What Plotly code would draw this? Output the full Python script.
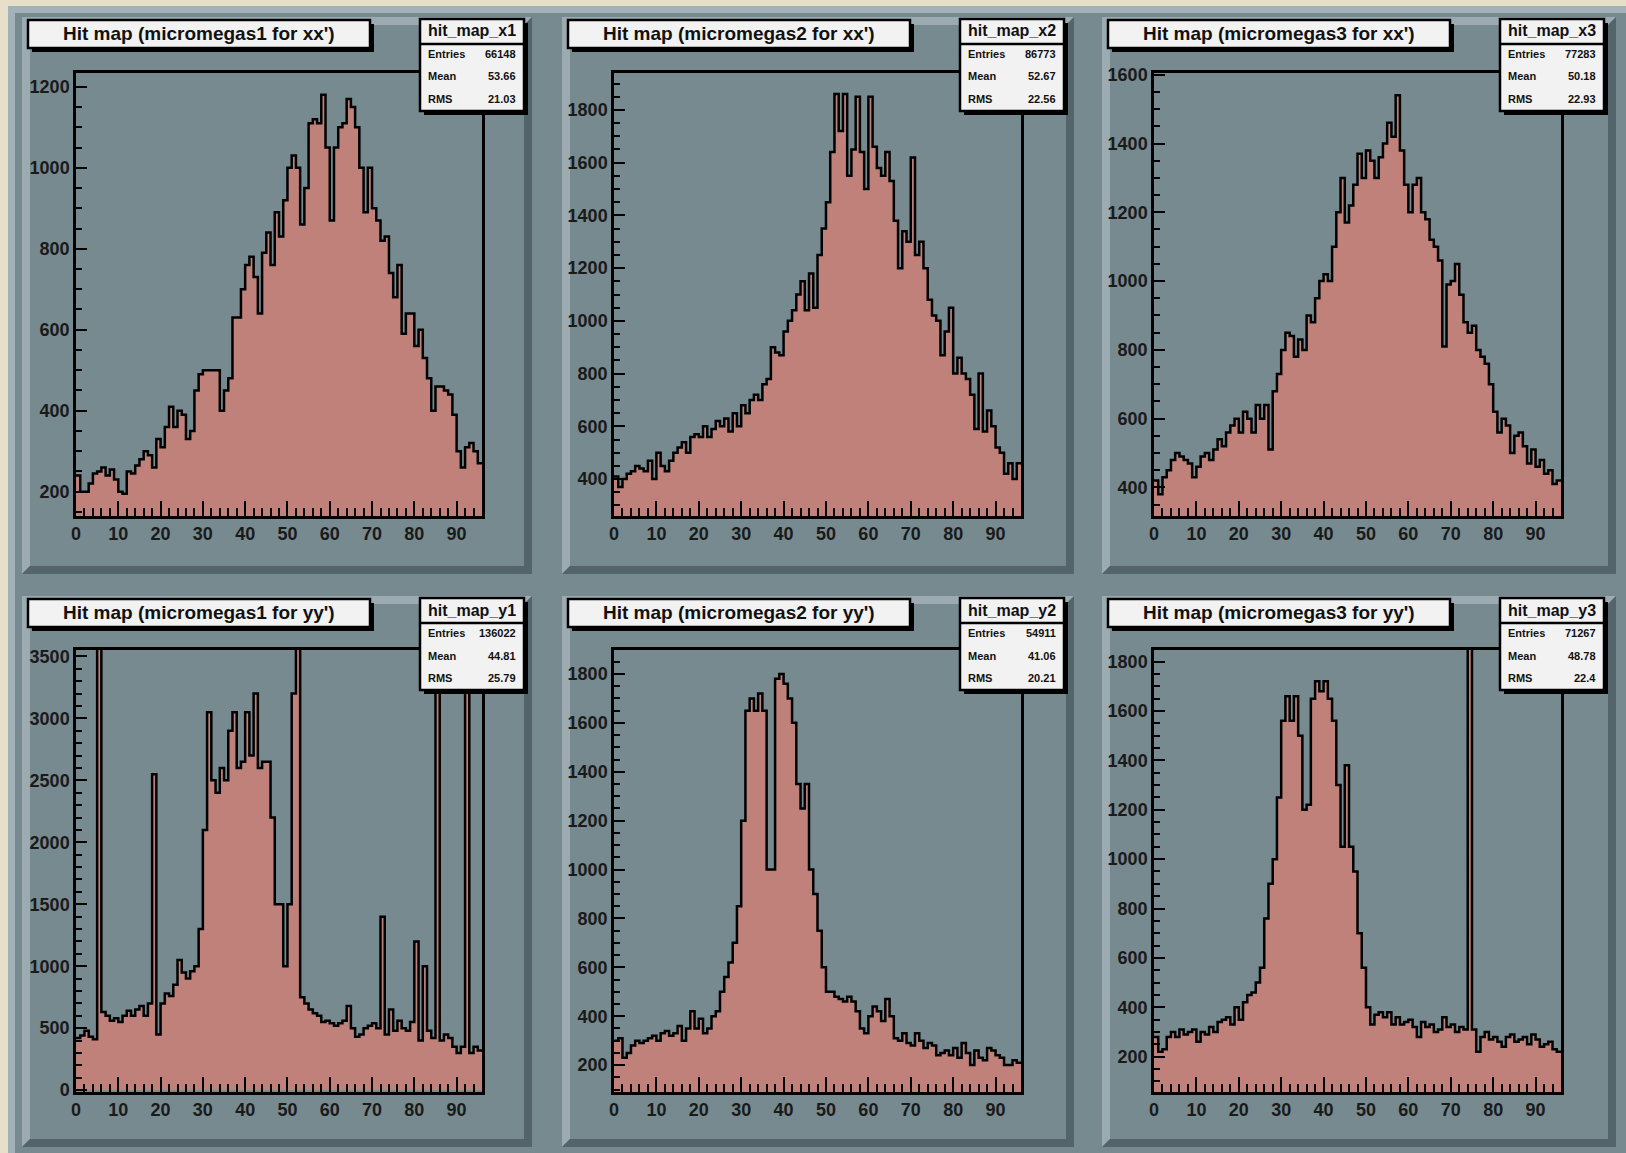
import plotly.graph_objects as go

W, H = 1626, 1153

# ---- histogram contents (96 unit-width bins from 0 to 96) ----
bin_edges = list(range(97))

hit_map_x1 = [240, 200, 200, 220, 245, 250, 260, 240, 255, 230,
              200, 195, 250, 245, 265, 280, 300, 290, 260, 330,
              310, 360, 410, 360, 400, 390, 330, 350, 450, 490,
              500, 500, 500, 500, 400, 450, 480, 630, 630, 700,
              760, 780, 730, 640, 790, 840, 760, 890, 830, 920,
              1000, 1030, 1000, 860, 950, 1110, 1120, 1110, 1180, 1050,
              870, 1050, 1100, 1110, 1170, 1150, 1100, 1000, 890, 1000,
              900, 870, 820, 830, 740, 680, 760, 590, 640, 640,
              560, 600, 530, 480, 400, 460, 460, 450, 440, 390,
              300, 260, 310, 320, 300, 270]

hit_map_x2 = [410, 370, 400, 420, 430, 450, 440, 430, 470, 400,
              500, 450, 430, 470, 500, 520, 540, 500, 560, 570,
              560, 600, 560, 590, 620, 600, 630, 580, 650, 600,
              680, 650, 700, 720, 700, 760, 780, 900, 880, 870,
              960, 1000, 1040, 1100, 1150, 1040, 1180, 1050, 1250, 1350,
              1450, 1640, 1860, 1720, 1860, 1550, 1650, 1850, 1640, 1500,
              1850, 1660, 1580, 1550, 1640, 1530, 1380, 1200, 1340, 1300,
              1620, 1250, 1300, 1200, 1080, 1020, 1000, 870, 960, 1050,
              800, 860, 800, 780, 720, 590, 800, 580, 660, 600,
              520, 500, 420, 460, 400, 460]

hit_map_x3 = [420, 380, 430, 450, 480, 500, 490, 480, 470, 430,
              460, 490, 500, 480, 510, 540, 520, 560, 580, 600,
              560, 620, 600, 560, 640, 600, 640, 510, 680, 730,
              800, 850, 840, 780, 830, 800, 900, 880, 950, 1000,
              1020, 1000, 1100, 1200, 1300, 1170, 1220, 1280, 1370, 1300,
              1380, 1350, 1300, 1360, 1400, 1460, 1420, 1540, 1380, 1280,
              1200, 1280, 1300, 1200, 1180, 1120, 1100, 1060, 810, 990,
              1000, 1050, 960, 880, 850, 870, 800, 780, 760, 700,
              620, 560, 600, 580, 500, 550, 560, 520, 470, 510,
              460, 480, 440, 450, 410, 420]

hit_map_y1 = [420, 440, 480, 430, 410, 4000, 630, 600, 560, 580,
              550, 600, 640, 600, 650, 680, 600, 700, 2550, 450,
              700, 780, 760, 850, 1050, 950, 900, 960, 1000, 1300,
              2100, 3050, 2500, 2400, 2600, 2500, 2900, 3050, 2600, 2650,
              3050, 2700, 3200, 2600, 2650, 2650, 2200, 1500, 1500, 1000,
              1500, 3200, 4000, 750, 700, 650, 620, 600, 550, 560,
              540, 520, 540, 560, 680, 500, 430, 450, 500, 520,
              540, 500, 1400, 450, 650, 480, 560, 500, 480, 550,
              1200, 400, 1000, 480, 420, 4000, 400, 450, 420, 350,
              300, 350, 4000, 300, 350, 320]

hit_map_y2 = [300, 310, 230, 250, 280, 300, 290, 300, 310, 320,
              300, 330, 340, 320, 330, 360, 300, 350, 420, 350,
              390, 330, 350, 400, 420, 500, 560, 620, 700, 850,
              1200, 1650, 1700, 1650, 1720, 1650, 1000, 1000, 1780, 1800,
              1760, 1700, 1600, 1350, 1250, 1350, 1000, 900, 750, 600,
              500, 500, 480, 470, 460, 480, 460, 420, 350, 330,
              400, 440, 420, 380, 470, 400, 310, 300, 330, 290,
              280, 330, 300, 270, 290, 280, 240, 250, 260, 240,
              270, 230, 290, 250, 200, 260, 230, 220, 270, 260,
              240, 230, 200, 200, 220, 210]

hit_map_y3 = [280, 220, 230, 280, 300, 280, 310, 290, 300, 310,
              260, 300, 290, 320, 300, 340, 350, 360, 330, 400,
              350, 420, 450, 460, 500, 560, 760, 900, 1000, 1250,
              1560, 1660, 1560, 1660, 1500, 1200, 1220, 1650, 1720, 1680,
              1720, 1650, 1560, 1300, 1050, 1380, 1050, 950, 700, 560,
              400, 330, 370, 380, 360, 380, 330, 360, 330, 340,
              350, 320, 280, 340, 320, 330, 300, 310, 360, 320,
              330, 300, 320, 310, 2000, 310, 220, 280, 300, 270,
              280, 260, 240, 280, 290, 260, 270, 280, 250, 290,
              270, 240, 250, 260, 230, 220]

histograms = [hit_map_x1, hit_map_x2, hit_map_x3, hit_map_y1, hit_map_y2, hit_map_y3]

panel_titles = ["Hit map (micromegas1 for xx')", "Hit map (micromegas2 for xx')",
                "Hit map (micromegas3 for xx')", "Hit map (micromegas1 for yy')",
                "Hit map (micromegas2 for yy')", "Hit map (micromegas3 for yy')"]
stat_names = ["hit_map_x1", "hit_map_x2", "hit_map_x3",
              "hit_map_y1", "hit_map_y2", "hit_map_y3"]
stat_entries = ["66148", "86773", "77283", "136022", "54911", "71267"]
stat_means = ["53.66", "52.67", "50.18", "44.81", "41.06", "48.78"]
stat_rms = ["21.03", "22.56", "22.93", "25.79", "20.21", "22.4"]

x_range = [0, 96]
x_major = 10
x_minor = 2
y_ranges = [[140, 1234], [260, 1940], [317, 1605], [-15, 3552], [90, 1898], [57, 1847]]
y_major = [200, 200, 200, 500, 200, 200]
y_minor = [50, 50, 50, 100, 50, 50]

# ---- colours ----
PAPER = "#e8dfcb"
PAD = "#768a90"
PAD_LIGHT = "#9babb1"
PAD_DARK = "#53646a"
FILL = "#c0817a"
BOX = "#f2f2f2"
INK = "#111111"

# ---- pixel geometry of the canvas ----
PAD_COLS = [(22, 532), (562, 1074), (1102, 1616)]
PAD_ROWS = [(17, 574), (596, 1147)]
FRAME_COLS = [(76, 482), (614, 1021), (1154, 1561)]
FRAME_ROWS = [(73, 516), (650, 1092)]
BEVEL = 8


def fx(px):
    return px / W


def fy(py):
    return 1 - py / H


def rect(x0, y0, x1, y1, fill, line_color=None, line_width=0, layer="below"):
    return dict(type="rect", xref="paper", yref="paper",
                x0=fx(x0), x1=fx(x1), y0=fy(y1), y1=fy(y0),
                fillcolor=fill,
                line=dict(width=line_width, color=line_color or fill),
                layer=layer)


def poly(points, fill, layer="below"):
    path = "M " + " L ".join(f"{fx(x):.6f},{fy(y):.6f}" for x, y in points) + " Z"
    return dict(type="path", xref="paper", yref="paper", path=path,
                fillcolor=fill, line=dict(width=0), layer=layer)


def bevelled(x0, y0, x1, y1, b, base, light, dark):
    return [
        rect(x0, y0, x1, y1, base),
        poly([(x0, y0), (x1, y0), (x1 - b, y0 + b), (x0 + b, y0 + b),
              (x0 + b, y1 - b), (x0, y1)], light),
        poly([(x1, y1), (x0, y1), (x0 + b, y1 - b), (x1 - b, y1 - b),
              (x1 - b, y0 + b), (x1, y0)], dark),
    ]


shapes = []
annotations = []
# canvas with a raised edge
shapes += bevelled(8, 6, W + 8, H + 8, 7, PAD, "#a3b2b8", PAD_DARK)

fig = go.Figure()
tick_font = dict(family="Liberation Sans", size=18, color="#1a1a1a", weight="bold")

for i, values in enumerate(histograms):
    row, col = divmod(i, 3)
    px0, px1 = PAD_COLS[col]
    py0, py1 = PAD_ROWS[row]
    fx0, fx1 = FRAME_COLS[col]
    fy0, fy1 = FRAME_ROWS[row]
    sfx = "" if i == 0 else str(i + 1)

    # pad
    shapes += bevelled(px0, py0, px1, py1, BEVEL, PAD, PAD_LIGHT, PAD_DARK)

    # histogram: filled step outline
    fig.add_trace(go.Scatter(
        x=bin_edges, y=values + [values[-1]], mode="lines",
        line=dict(shape="hv", color="black", width=2.5),
        fill="tozeroy", fillcolor=FILL, hoverinfo="skip",
        xaxis="x" + sfx, yaxis="y" + sfx, showlegend=False))

    axis_common = dict(showgrid=False, zeroline=False, showline=True, mirror=True,
                       linecolor="black", linewidth=2.5, ticks="inside",
                       tickcolor="black", tickwidth=2, tickfont=tick_font)
    fig.layout["xaxis" + sfx] = dict(
        axis_common, domain=[fx(fx0), fx(fx1)], anchor="y" + sfx,
        range=x_range, tick0=0, dtick=x_major, ticklen=15,
        minor=dict(ticks="inside", ticklen=8, dtick=x_minor, tick0=0,
                   tickcolor="black", tickwidth=2),
        ticklabelstandoff=0)
    fig.layout["yaxis" + sfx] = dict(
        axis_common, domain=[fy(fy1), fy(fy0)], anchor="x" + sfx,
        range=y_ranges[i], tick0=0, dtick=y_major[i], ticklen=11,
        minor=dict(ticks="inside", ticklen=6, dtick=y_minor[i], tick0=0,
                   tickcolor="black", tickwidth=2),
        ticklabelstandoff=0)

    # title box with drop shadow
    tx0, ty0, tx1, ty1 = px0 + 6, py0 + 3, px0 + 348, py0 + 31
    shapes.append(rect(tx0 + 4, ty0 + 4, tx1 + 4, ty1 + 4, "black", layer="above"))
    shapes.append(rect(tx0, ty0, tx1, ty1, BOX, "black", 2.5, layer="above"))
    annotations.append(dict(
        text=panel_titles[i], x=fx((tx0 + tx1) / 2), y=fy((ty0 + ty1) / 2),
        xref="paper", yref="paper", showarrow=False, xanchor="center", yanchor="middle",
        font=dict(family="Liberation Sans", size=19, color=INK, weight="bold")))

    # statistics box
    sx0, sy0, sx1, sy1 = px0 + 398, py0 + 2, px0 + 502, py0 + 94
    shapes.append(rect(sx0 + 4, sy0 + 4, sx1 + 4, sy1 + 4, "black", layer="above"))
    shapes.append(rect(sx0, sy0, sx1, sy1, BOX, "black", 2.5, layer="above"))
    shapes.append(dict(type="line", xref="paper", yref="paper",
                       x0=fx(sx0), x1=fx(sx1), y0=fy(sy0 + 25), y1=fy(sy0 + 25),
                       line=dict(color="black", width=2.5), layer="above"))
    annotations.append(dict(
        text=stat_names[i], x=fx((sx0 + sx1) / 2), y=fy(sy0 + 12),
        xref="paper", yref="paper", showarrow=False, xanchor="center", yanchor="middle",
        font=dict(family="Liberation Sans", size=16, color=INK, weight="bold")))
    for k, (label, value) in enumerate(zip(["Entries", "Mean", "RMS"],
                                           [stat_entries[i], stat_means[i], stat_rms[i]])):
        yy = fy(sy0 + 35 + 22.5 * k)
        annotations.append(dict(
            text=label, x=fx(sx0 + 6), y=yy, xref="paper", yref="paper",
            showarrow=False, xanchor="left", yanchor="middle",
            font=dict(family="Liberation Sans", size=11, color=INK, weight="bold")))
        annotations.append(dict(
            text=value, x=fx(sx1 - 6), y=yy, xref="paper", yref="paper",
            showarrow=False, xanchor="right", yanchor="middle",
            font=dict(family="Liberation Sans", size=11, color=INK, weight="bold")))

fig.update_layout(
    width=W, height=H, margin=dict(l=0, r=0, t=0, b=0, autoexpand=False),
    paper_bgcolor=PAPER, plot_bgcolor="rgba(0,0,0,0)",
    shapes=shapes, annotations=annotations, showlegend=False,
)

fig.write_html("out.html")
